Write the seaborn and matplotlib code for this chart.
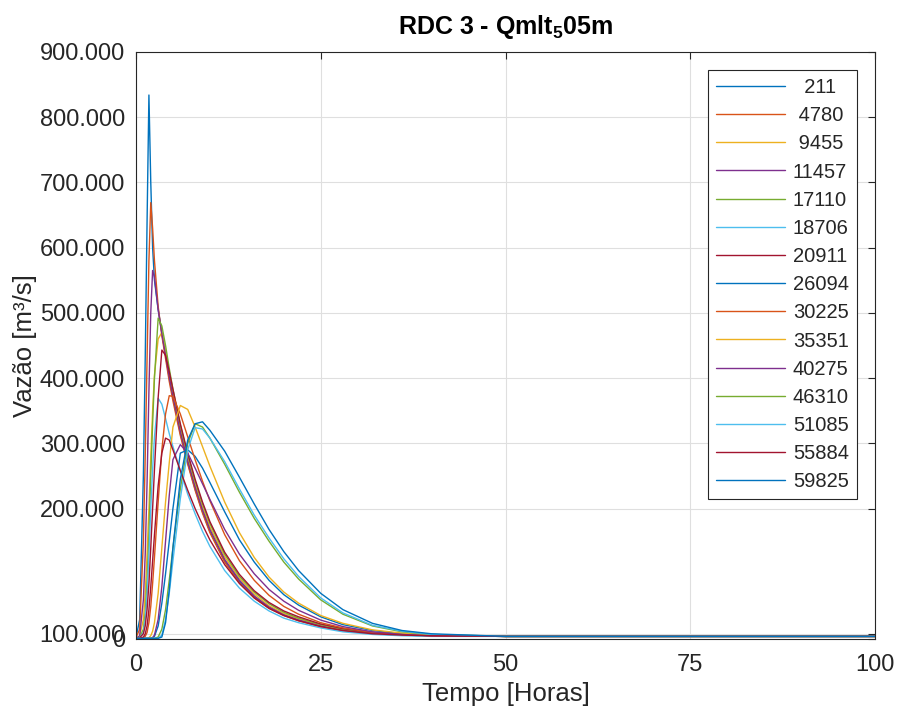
import matplotlib
matplotlib.use('Agg')
import matplotlib.pyplot as plt
import pandas as pd
import seaborn as sns

# tempo (horas) comum a todos os hidrogramas
tempo = [0, 0.5, 1, 1.25, 1.5, 1.75, 2, 2.25, 2.5, 3, 3.5, 4, 4.5, 5, 6, 7, 8, 9, 10,
         12, 14, 16, 18, 20, 22, 25, 28, 32, 36, 40, 50, 75, 100]

# vazões (m³/s)
q_211 = [2, 30, 250, 430, 640, 834, 700, 600, 550, 505, 470, 435, 400, 370, 315, 270, 230, 195, 165,
         120, 88, 65, 48, 37, 29, 20, 14, 9, 6, 5, 4, 4, 4]
q_4780 = [2, 15, 150, 280, 430, 580, 669, 630, 580, 510, 465, 430, 395, 365, 312, 268, 228, 193, 163,
          118, 86, 63, 47, 36, 28, 19, 13, 8, 6, 5, 4, 4, 4]
q_9455 = [1, 4, 30, 70, 130, 200, 280, 350, 405, 460, 470, 442, 408, 377, 322, 277, 237, 202, 172,
          126, 93, 69, 51, 39, 31, 21, 14, 9, 6, 5, 4, 4, 4]
q_11457 = [1, 5, 60, 130, 240, 380, 500, 565, 555, 505, 468, 435, 402, 372, 318, 273, 233, 198, 168,
           122, 90, 66, 49, 37, 29, 20, 13, 9, 6, 5, 4, 4, 4]
q_17110 = [1, 2, 15, 40, 90, 160, 250, 330, 400, 492, 480, 450, 415, 383, 328, 282, 242, 207, 177,
           130, 96, 72, 54, 41, 32, 22, 15, 10, 7, 5, 4, 4, 4]
q_18706 = [1, 2, 10, 30, 70, 130, 200, 260, 310, 369, 360, 338, 315, 295, 258, 222, 192, 165, 142,
           105, 78, 58, 43, 32, 25, 17, 11, 7, 5, 4, 4, 4, 4]
q_20911 = [1, 2, 8, 20, 45, 85, 140, 200, 260, 370, 443, 435, 410, 383, 330, 285, 245, 210, 180,
           133, 99, 74, 56, 43, 34, 23, 16, 10, 7, 5, 4, 4, 4]
q_26094 = [1, 1, 1, 1, 1, 1, 1, 2, 4, 20, 55, 100, 150, 200, 285, 290, 280, 262, 240,
           195, 152, 118, 90, 68, 52, 34, 22, 13, 8, 6, 4, 4, 4]
q_30225 = [1, 1, 2, 4, 10, 25, 50, 85, 125, 210, 290, 345, 373, 372, 345, 310, 275, 242, 212,
           160, 120, 90, 67, 50, 38, 25, 17, 10, 7, 5, 4, 4, 4]
q_35351 = [1, 1, 1, 1, 1, 2, 5, 12, 25, 70, 140, 210, 270, 325, 358, 352, 325, 295, 265,
           210, 163, 125, 95, 72, 55, 36, 24, 14, 9, 6, 4, 4, 4]
q_40275 = [1, 1, 1, 1, 1, 1, 1, 2, 6, 30, 80, 150, 220, 275, 298, 285, 262, 238, 214,
           168, 130, 100, 76, 58, 44, 29, 19, 11, 7, 5, 4, 4, 4]
q_46310 = [1, 1, 1, 1, 1, 1, 1, 1, 1, 3, 15, 45, 90, 140, 230, 300, 330, 325, 308,
           268, 225, 185, 150, 118, 92, 60, 38, 20, 11, 7, 4, 4, 4]
q_51085 = [1, 1, 1, 1, 1, 1, 1, 1, 1, 1, 6, 30, 70, 120, 215, 290, 324, 322, 308,
           272, 230, 190, 155, 123, 96, 63, 40, 21, 12, 7, 4, 4, 4]
q_55884 = [1, 1, 3, 8, 20, 45, 80, 120, 160, 235, 285, 308, 305, 290, 258, 228, 200, 175, 152,
           114, 85, 63, 47, 36, 28, 19, 13, 8, 6, 5, 4, 4, 4]
q_59825 = [1, 1, 1, 1, 1, 1, 1, 1, 1, 1, 3, 25, 75, 140, 245, 305, 330, 333, 320,
           288, 248, 207, 168, 134, 105, 70, 45, 24, 13, 8, 4, 4, 4]

series = [q_211, q_4780, q_9455, q_11457, q_17110, q_18706, q_20911, q_26094,
          q_30225, q_35351, q_40275, q_46310, q_51085, q_55884, q_59825]
rotulos = ['211', '4780', '9455', '11457', '17110', '18706', '20911', '26094',
           '30225', '35351', '40275', '46310', '51085', '55884', '59825']

# cores padrão do MATLAB
cores_base = ['#0072BD', '#D95319', '#EDB120', '#7E2F8E', '#77AC30', '#4DBEEE', '#A2142F']
cores = [cores_base[i % 7] for i in range(len(rotulos))]

x_ticks = [0, 25, 50, 75, 100]
y_ticks = [0, 8, 200, 300, 400, 500, 600, 700, 800, 900]
y_ticklabels = ['0', '100.000', '200.000', '300.000', '400.000', '500.000',
                '600.000', '700.000', '800.000', '900.000']

df = pd.concat([pd.DataFrame({'Tempo': tempo, 'Vazao': q, 'Serie': r})
                for q, r in zip(series, rotulos)], ignore_index=True)

sns.set_theme(style='whitegrid')
plt.rcParams['font.family'] = ['Liberation Sans', 'DejaVu Sans']
plt.rcParams['mathtext.fontset'] = 'custom'
plt.rcParams['mathtext.rm'] = 'Liberation Sans'
plt.rcParams['mathtext.bf'] = 'Liberation Sans:bold'

escuro = '#262626'

fig, ax = plt.subplots(figsize=(8.97, 7.15), dpi=100)
fig.subplots_adjust(left=0.1516, right=0.9755, bottom=0.1063, top=0.9273)

sns.lineplot(data=df, x='Tempo', y='Vazao', hue='Serie', hue_order=rotulos, palette=cores,
             estimator=None, sort=False, linewidth=1.0, legend=False, ax=ax)

ax.set_xlim(0, 100)
ax.set_ylim(0, 900)
ax.set_xticks(x_ticks)
ax.set_yticks(y_ticks)
ax.set_yticklabels(y_ticklabels)

ax.set_facecolor('white')
ax.grid(True, color='#dfdfdf', linewidth=0.8)
for s in ax.spines.values():
    s.set_visible(True)
    s.set_color(escuro)
    s.set_linewidth(0.8)
ax.tick_params(direction='in', length=5, width=0.8, color=escuro, labelcolor=escuro,
               labelsize=17, top=True, right=True)
ax.tick_params(axis='x', pad=11)
ax.tick_params(axis='y', pad=8)

ax.set_xlabel('Tempo [Horas]', fontsize=18.5, color=escuro, labelpad=4)
ax.set_ylabel('Vazão [m³/s]', fontsize=18.5, color=escuro, labelpad=2)
ax.set_title(r'RDC 3 - Qmlt$_\mathbf{5}$05m', fontsize=18, fontweight='bold', color='black', pad=13)

# legenda com rótulos centralizados (espaços de largura de dígito)
def centraliza(s, n=5):
    falta = n - len(s)
    return '\u2007' * (falta // 2) + '\u2008' * (falta % 2) + s + '\u2008' * (falta % 2) + '\u2007' * (falta // 2)

leg = ax.legend(ax.get_lines(), [centraliza(r) for r in rotulos], loc='upper right',
                bbox_to_anchor=(0.9756, 0.9693), borderaxespad=0, fontsize=14.5,
                labelspacing=0.455, handlelength=3.4, handletextpad=0.4, borderpad=0.4,
                frameon=True, fancybox=False, edgecolor=escuro, framealpha=1)
leg.get_frame().set_linewidth(0.8)
for t in leg.get_texts():
    t.set_color(escuro)

fig.savefig('out.png', dpi=100)
